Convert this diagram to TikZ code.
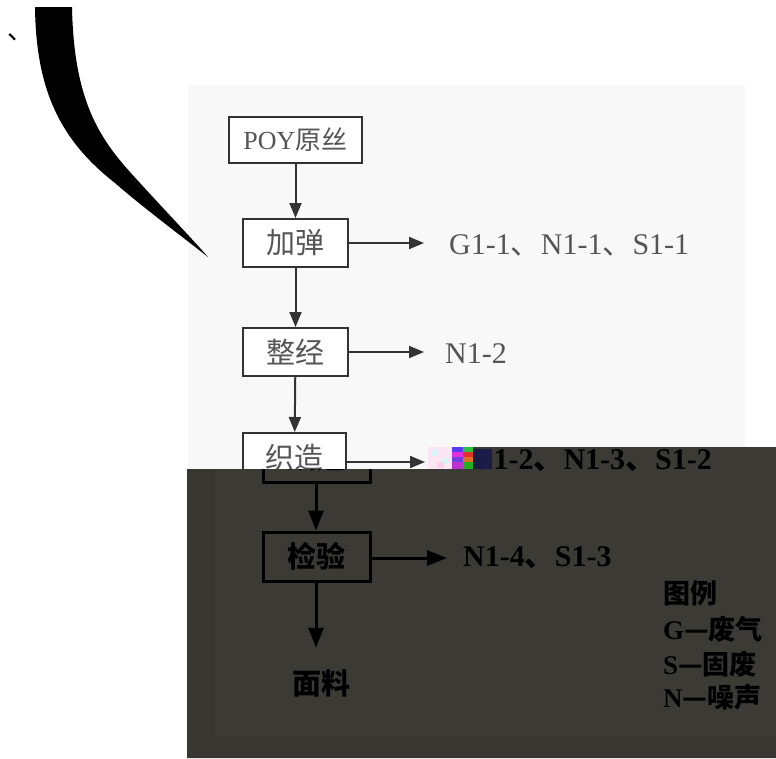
\documentclass[tikz,border=0pt]{standalone}
\usepackage{fontspec}
\setmainfont{Liberation Serif}
\newfontfamily\cjk{Noto Sans CJK SC}
\usetikzlibrary{arrows.meta}
\definecolor{panel}{HTML}{F8F8F8}
\definecolor{darkbg}{HTML}{383631}
\definecolor{darkin}{HTML}{3C3A35}
\definecolor{lline}{HTML}{333333}
\definecolor{ltext}{HTML}{555555}
\definecolor{gA}{HTML}{FCE6F4}
\definecolor{gB}{HTML}{D6F6F6}
\definecolor{gC}{HTML}{F6D0EC}
\definecolor{gD}{HTML}{5A3CF0}
\definecolor{gE}{HTML}{30C040}
\definecolor{gF}{HTML}{E030E0}
\definecolor{gG}{HTML}{E03030}
\definecolor{gH}{HTML}{7040E0}
\definecolor{gI}{HTML}{E07020}
\definecolor{gJ}{HTML}{C030D0}
\definecolor{gK}{HTML}{20B020}
\definecolor{gL}{HTML}{1C1C48}
\newcommand{\dun}{{\cjk 、}}
\tikzset{
  lbox/.style={draw=lline, line width=2pt, fill=white, inner sep=0pt, text=ltext,
    font=\fontsize{29}{29}\selectfont\cjk},
  dbox/.style={draw=black, line width=3pt, inner sep=0pt, text=black,
    font=\fontsize{29}{29}\selectfont\cjk\bfseries},
  larr/.style={draw=lline, line width=2pt, -{Triangle[length=15pt,width=12pt]}},
  darr/.style={draw=black, line width=3pt, -{Triangle[length=20pt,width=15pt]}},
  ltxt/.style={text=ltext, inner sep=0pt, anchor=west, font=\fontsize{30}{30}\selectfont},
  dtxt/.style={text=black, inner sep=0pt, anchor=west, font=\fontsize{30}{30}\selectfont\bfseries},
  legend/.style={text=black, inner sep=0pt, anchor=west, font=\fontsize{27}{27}\selectfont\bfseries},
}
\begin{document}
\begin{tikzpicture}[x=1pt,y=-1pt]
\useasboundingbox (0,0) rectangle (776,758);
\fill[white] (0,0) rectangle (776,758);
% light panel
\fill[panel] (188,85) rectangle (745,469);
% black swoosh and stray comma
\fill[black] (35,7) .. controls (36,90) and (60,140) .. (115,183)
  .. controls (140,205) and (180,235) .. (208,257)
  .. controls (195,242) and (160,205) .. (140,183)
  .. controls (105,145) and (74,110) .. (72,7) -- cycle;
\node[inner sep=0pt, font=\fontsize{26}{26}\selectfont\cjk] (comma) at (21,37) {、};
% light chart
\node[lbox, minimum width=133pt, minimum height=46pt] (poy) at (295.5,140) {{\rmfamily\fontsize{26}{26}\selectfont POY}{\fontsize{26}{26}\selectfont 原丝}};
\node[lbox, minimum width=105pt, minimum height=48pt] (jt) at (295.5,243) {加弹};
\node[lbox, minimum width=105pt, minimum height=48pt] (zj) at (295.5,352) {整经};
\node[lbox, minimum width=103pt, minimum height=48pt] (zz) at (294.5,457) {织造};
\draw[larr] (poy) -- (jt);
\draw[larr] (jt) -- (zj);
\draw[larr] (zj) -- (zz);
\node[ltxt] (g1) at (449,245) {G1-1\dun N1-1\dun S1-1};
\node[ltxt] (n2) at (445,354) {N1-2};
\coordinate (jt-out) at (424,243);
\coordinate (zj-out) at (424,352);
\coordinate (zz-out) at (425,462);
\draw[larr] (jt.east) -- (jt-out);
\draw[larr] (zj.east) -- (zj-out);
\draw[larr] (zz.east |- zz-out) -- (zz-out);
% dark overlay
\fill[darkbg] (187,469) -- (452,469) -- (452,447) -- (776,447) -- (776,758) -- (187,758) -- cycle;
\fill[darkin] (215,469) -- (452,469) -- (452,447) -- (776,447) -- (776,737) -- (215,737) -- cycle;
\coordinate (xline) at (316,0);
\begin{scope}
\clip (187,469) -- (452,469) -- (452,447) -- (776,447) -- (776,758) -- (187,758) -- cycle;
\node[dbox, minimum width=107pt, minimum height=49pt] (dzz) at (316.5,457.5) {织造};
\node[dbox, minimum width=107pt, minimum height=49pt] (jy) at (316.5,556.5) {检验};
\node[inner sep=0pt, minimum height=70pt, text=black, font=\fontsize{29}{29}\selectfont\cjk\bfseries] (ml) at (321,683) {面料};
\draw[darr] (dzz.south -| xline) -- (jy.north -| xline);
\draw[darr] (jy.south -| xline) -- (ml.north -| xline);
\coordinate (jy-out) at (447,558);
\draw[darr] (jy.east |- jy-out) -- (jy-out);
\node[dtxt] (g2) at (470,461) {G1-2\dun N1-3\dun S1-2};
\node[dtxt] (n4) at (463,558) {N1-4\dun S1-3};
\node[legend] (lg1) at (663,593) {\cjk 图例};
\node[legend] (lg2) at (663,629) {G{\cjk —废气}};
\node[legend] (lg3) at (663,664) {S{\cjk —固废}};
\node[legend] (lg4) at (663,697) {N{\cjk —噪声}};
\end{scope}
% garbled pixel block
\fill[gA] (428,447) rectangle (452,469);
\fill[gB] (431,450) rectangle (437,456);
\fill[gB] (441,458) rectangle (447,464);
\fill[gC] (437,462) rectangle (444,468);
\fill[gD] (452,447) rectangle (463,452);
\fill[gE] (463,447) rectangle (473,452);
\fill[gF] (452,452) rectangle (463,457);
\fill[gG] (463,452) rectangle (473,457);
\fill[gH] (452,457) rectangle (463,462);
\fill[gI] (463,457) rectangle (473,462);
\fill[gJ] (452,462) rectangle (463,469);
\fill[gK] (463,462) rectangle (473,469);
\fill[gL] (473,449) rectangle (492,469);
\end{tikzpicture}
\end{document}
